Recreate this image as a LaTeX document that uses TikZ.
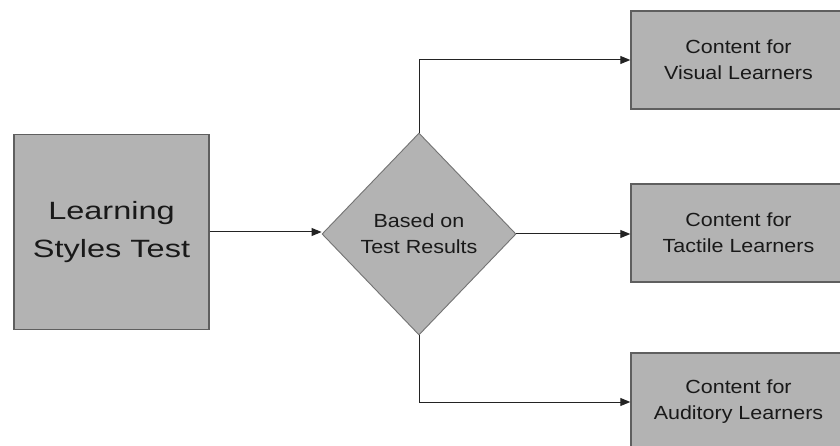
\documentclass[tikz,border=0pt]{standalone}
\usepackage{fontspec}
\setmainfont{Liberation Sans}
\usepackage{graphicx}
\usetikzlibrary{shapes.geometric,arrows.meta}
\definecolor{boxfill}{RGB}{179,179,179}
\definecolor{boxline}{RGB}{95,95,95}
\definecolor{dialine}{RGB}{115,115,115}
\definecolor{connline}{RGB}{35,35,35}
\definecolor{txt}{RGB}{25,25,25}
\newcommand\widebig[1]{\scalebox{1.3}[1]{#1}}
\newcommand\widesmall[1]{\scalebox{1.13}[1]{#1}}
\begin{document}
\begin{tikzpicture}[x=1pt,y=-1pt,
  bigbox/.style={draw=boxline,line width=1.4pt,fill=boxfill,text=txt,minimum width=195pt,minimum height=195pt,inner sep=0pt,align=center,font=\fontsize{25}{38}\selectfont},
  rbox/.style={draw=boxline,line width=1.4pt,fill=boxfill,text=txt,minimum width=215pt,minimum height=98pt,inner sep=0pt,align=center,font=\fontsize{19}{26}\selectfont},
  decbox/.style={diamond,draw=dialine,line width=0.9pt,fill=boxfill,text=txt,minimum width=194pt,minimum height=202pt,inner sep=0pt,align=center,font=\fontsize{19}{26}\selectfont},
  conn/.style={draw=connline,line width=1pt,-{Triangle[length=10pt,width=8pt]}}]
\clip (0,0) rectangle (840,446);
\fill[white] (0,0) rectangle (840,446);
\node[bigbox] (test) at (111.5,232) {\widebig{Learning}\\\widebig{Styles Test}};
\node[decbox] (dec) at (419,234) {\widesmall{Based on}\\\widesmall{Test Results}};
\node[rbox] (vis) at (738.5,60) {\widesmall{Content for}\\\widesmall{Visual Learners}};
\node[rbox] (tac) at (738.5,233) {\widesmall{Content for}\\\widesmall{Tactile Learners}};
\node[rbox] (aud) at (738.5,402) {\widesmall{Content for}\\\widesmall{Auditory Learners}};
\draw[conn] (test.east) -- (test.east -| dec.west);
\draw[conn] (dec.north) |- (vis.west);
\draw[conn] (dec.east) -- (dec.east -| tac.west);
\draw[conn] (dec.south) |- (aud.west);
\end{tikzpicture}
\end{document}
